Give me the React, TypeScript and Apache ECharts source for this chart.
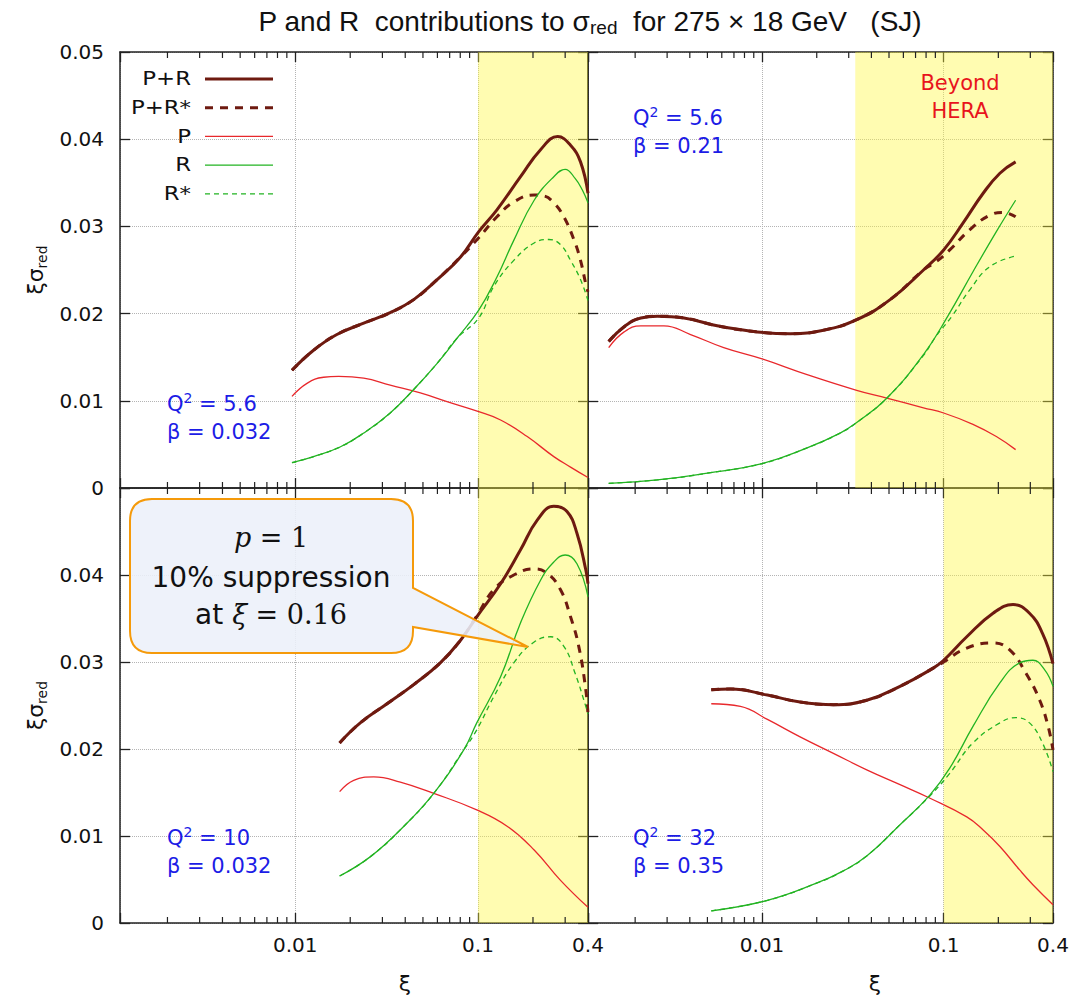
import React, { useEffect, useRef } from "react";
import * as echarts from "echarts";

// ---------------- data ----------------
const XI_MIN = 0.0011;
const XI_MAX = 0.4;
const Y_MIN = 0;
const Y_MAX = 0.05;
const Y_STEP = 0.01;
const X_TICK_LABELS = [0.01, 0.1, 0.4];
const X_MINOR_TICKS = [0.002, 0.003, 0.004, 0.005, 0.006, 0.007, 0.008, 0.009, 0.02, 0.03, 0.04, 0.05, 0.06, 0.07, 0.08, 0.09, 0.2, 0.3];
const SERIES_NAMES = ["P+R", "P+R*", "P", "R", "R*"];
const PANEL_Q2 = ["5.6", "5.6", "10", "32"];
const PANEL_BETA = ["0.032", "0.21", "0.032", "0.35"];
const HERA_LIMIT = [0.1, 0.0326, 0.1, 0.1];

// Panel A: Q2 = 5.6, beta = 0.032
const A_PR = [[0.0096, 0.0135], [0.0126, 0.0158], [0.0169, 0.0176], [0.0237, 0.0189], [0.0331, 0.0201], [0.0445, 0.0216], [0.0598, 0.0239], [0.0803, 0.0265], [0.101, 0.0294], [0.127, 0.0319], [0.171, 0.0357], [0.22, 0.0388], [0.273, 0.0403], [0.321, 0.0393], [0.364, 0.0374], [0.4, 0.0338]];
const A_PRs = [[0.0096, 0.0135], [0.0126, 0.0158], [0.0169, 0.0176], [0.0237, 0.0189], [0.0331, 0.0201], [0.0445, 0.0216], [0.0598, 0.0239], [0.0803, 0.0265], [0.101, 0.0287], [0.127, 0.0311], [0.157, 0.0328], [0.203, 0.0336], [0.229, 0.0335], [0.26, 0.0327], [0.295, 0.0311], [0.336, 0.0284], [0.364, 0.0261], [0.39, 0.0233], [0.4, 0.0225]];
const A_P = [[0.0096, 0.0105], [0.0116, 0.012], [0.0143, 0.0127], [0.0173, 0.0128], [0.0237, 0.0126], [0.0331, 0.0118], [0.0484, 0.0109], [0.0677, 0.0099], [0.101, 0.00875], [0.133, 0.0078], [0.186, 0.0059], [0.26, 0.0036], [0.321, 0.0024], [0.4, 0.0012]];
const A_R = [[0.0096, 0.0029], [0.0126, 0.0036], [0.0176, 0.0047], [0.0237, 0.0063], [0.0331, 0.0086], [0.0445, 0.0113], [0.0598, 0.0143], [0.077, 0.0172], [0.101, 0.0204], [0.127, 0.0242], [0.157, 0.0284], [0.203, 0.033], [0.26, 0.0357], [0.3, 0.03655], [0.34, 0.0355], [0.372, 0.0342], [0.4, 0.0327]];
const A_Rs = [[0.0096, 0.0029], [0.0126, 0.0036], [0.0176, 0.0047], [0.0237, 0.0063], [0.0331, 0.0086], [0.0445, 0.0113], [0.0598, 0.0143], [0.077, 0.0172], [0.101, 0.0195], [0.122, 0.0231], [0.157, 0.0261], [0.203, 0.0281], [0.244, 0.0285], [0.283, 0.0279], [0.321, 0.0261], [0.364, 0.0239], [0.4, 0.0215]];

// Panel B: Q2 = 5.6, beta = 0.21
const B_PR = [[0.00143, 0.0168], [0.00174, 0.0185], [0.00215, 0.0195], [0.00265, 0.0197], [0.00371, 0.0195], [0.00566, 0.0186], [0.0094, 0.0179], [0.0143, 0.0177], [0.0218, 0.0181], [0.0332, 0.0193], [0.0507, 0.0216], [0.0774, 0.025], [0.1, 0.0273], [0.128, 0.0304], [0.165, 0.0338], [0.204, 0.0361], [0.249, 0.0374]];
const B_PRs = [[0.00143, 0.0168], [0.00174, 0.0185], [0.00215, 0.0195], [0.00265, 0.0197], [0.00371, 0.0195], [0.00566, 0.0186], [0.0094, 0.0179], [0.0143, 0.0177], [0.0218, 0.0181], [0.0332, 0.0193], [0.0507, 0.0216], [0.0774, 0.025], [0.0915, 0.026], [0.108, 0.0273], [0.139, 0.0296], [0.18, 0.0313], [0.213, 0.0316], [0.249, 0.0311]];
const B_P = [[0.00143, 0.0161], [0.00174, 0.0179], [0.00215, 0.0186], [0.00288, 0.0186], [0.00404, 0.0176], [0.00615, 0.0161], [0.01, 0.0148], [0.0177, 0.013], [0.0332, 0.0112], [0.0486, 0.0103], [0.0774, 0.0092], [0.1, 0.0086], [0.145, 0.0073], [0.195, 0.0059], [0.249, 0.0044]];
const B_R = [[0.00143, 0.00054], [0.00265, 0.00092], [0.005, 0.0017], [0.01, 0.0028], [0.0177, 0.0046], [0.0269, 0.0063], [0.0332, 0.0075], [0.0486, 0.0103], [0.0774, 0.0153], [0.106, 0.0198], [0.145, 0.0248], [0.195, 0.0294], [0.249, 0.033]];
const B_Rs = [[0.00143, 0.00054], [0.00265, 0.00092], [0.005, 0.0017], [0.01, 0.0028], [0.0177, 0.0046], [0.0269, 0.0063], [0.0332, 0.0075], [0.0486, 0.0103], [0.0774, 0.0152], [0.09, 0.0173], [0.111, 0.0197], [0.139, 0.0227], [0.18, 0.0254], [0.249, 0.0266]];

// Panel C: Q2 = 10, beta = 0.032
const C_PR = [[0.0175, 0.0207], [0.0227, 0.023], [0.0318, 0.0252], [0.0445, 0.0274], [0.0622, 0.0299], [0.0803, 0.0325], [0.0985, 0.0352], [0.133, 0.039], [0.171, 0.0429], [0.211, 0.0463], [0.26, 0.0479], [0.307, 0.0473], [0.348, 0.0448], [0.389, 0.0406], [0.4, 0.039]];
const C_PRs = [[0.0175, 0.0207], [0.0227, 0.023], [0.0318, 0.0252], [0.0445, 0.0274], [0.0622, 0.0299], [0.0803, 0.0325], [0.0985, 0.0353], [0.122, 0.0383], [0.157, 0.04], [0.203, 0.0407], [0.239, 0.0402], [0.283, 0.0383], [0.321, 0.0352], [0.356, 0.0318], [0.389, 0.0268], [0.4, 0.024]];
const C_P = [[0.0175, 0.0151], [0.0209, 0.0164], [0.0269, 0.0168], [0.0376, 0.0162], [0.0573, 0.0149], [0.0985, 0.013], [0.145, 0.0111], [0.203, 0.0084], [0.283, 0.0049], [0.4, 0.0018]];
const C_R = [[0.0175, 0.0054], [0.0257, 0.0076], [0.0392, 0.0111], [0.0573, 0.0149], [0.0836, 0.0199], [0.0985, 0.023], [0.133, 0.0283], [0.171, 0.0345], [0.22, 0.0394], [0.26, 0.0415], [0.3, 0.0423], [0.348, 0.0413], [0.4, 0.0375]];
const C_Rs = [[0.0175, 0.0054], [0.0257, 0.0076], [0.0392, 0.0111], [0.0573, 0.0149], [0.0836, 0.0199], [0.0985, 0.0222], [0.122, 0.026], [0.157, 0.0299], [0.203, 0.0323], [0.25, 0.0329], [0.295, 0.0318], [0.34, 0.0287], [0.389, 0.0249], [0.4, 0.024]];

// Panel D: Q2 = 32, beta = 0.35
const D_PR = [[0.00525, 0.0268], [0.0067, 0.0269], [0.0107, 0.0262], [0.0162, 0.0254], [0.0247, 0.0251], [0.0377, 0.0256], [0.0575, 0.0272], [0.0876, 0.0293], [0.1, 0.0302], [0.134, 0.0329], [0.187, 0.0356], [0.241, 0.0366], [0.297, 0.0356], [0.35, 0.0333], [0.4, 0.0298]];
const D_PRs = [[0.00525, 0.0268], [0.0067, 0.0269], [0.0107, 0.0262], [0.0162, 0.0254], [0.0247, 0.0251], [0.0377, 0.0256], [0.0575, 0.0272], [0.0876, 0.0293], [0.1, 0.03], [0.134, 0.0316], [0.187, 0.0322], [0.231, 0.0314], [0.284, 0.0287], [0.338, 0.0256], [0.376, 0.0226], [0.4, 0.0199]];
const D_P = [[0.00525, 0.0252], [0.0076, 0.0249], [0.0107, 0.0234], [0.0162, 0.0214], [0.0247, 0.0195], [0.0377, 0.0176], [0.0575, 0.0159], [0.083, 0.0144], [0.134, 0.0122], [0.165, 0.0107], [0.204, 0.0088], [0.262, 0.0061], [0.31, 0.0044], [0.4, 0.0021]];
const D_R = [[0.00525, 0.0014], [0.0107, 0.0026], [0.0201, 0.0046], [0.0275, 0.0059], [0.0377, 0.0077], [0.0575, 0.0113], [0.0839, 0.0147], [0.108, 0.0178], [0.145, 0.0226], [0.204, 0.0276], [0.262, 0.0299], [0.31, 0.0302], [0.36, 0.0291], [0.4, 0.0272]];
const D_Rs = [[0.00525, 0.0014], [0.0107, 0.0026], [0.0201, 0.0046], [0.0275, 0.0059], [0.0377, 0.0077], [0.0575, 0.0113], [0.0839, 0.0146], [0.108, 0.0172], [0.145, 0.0207], [0.204, 0.023], [0.25, 0.0236], [0.297, 0.023], [0.35, 0.0207], [0.4, 0.0174]];

const PANEL_DATA = [
  [A_PR, A_PRs, A_P, A_R, A_Rs],
  [B_PR, B_PRs, B_P, B_R, B_Rs],
  [C_PR, C_PRs, C_P, C_R, C_Rs],
  [D_PR, D_PRs, D_P, D_R, D_Rs],
];

// ---------------- layout & style ----------------
const W = 1073;
const H = 995;
const GRIDS = [
  { left: 120, top: 52, width: 468, height: 436 },
  { left: 588, top: 52, width: 465, height: 436 },
  { left: 120, top: 488, width: 468, height: 435 },
  { left: 588, top: 488, width: 465, height: 435 },
];
const ANNOT_POS = [[167, 404], [633, 118], [167, 838], [633, 838]];
const SANS = "DejaVu Sans";
const DARK = "#6e1a10";
const RED = "#e8282c";
const GREEN = "#22b322";
const BLUE = "#1c1ce6";
const STYLES: Record<string, { color: string; width: number; type: any }> = {
  "P+R": { color: DARK, width: 3, type: "solid" },
  "P+R*": { color: DARK, width: 3, type: [8, 7] },
  P: { color: RED, width: 1.3, type: "solid" },
  R: { color: GREEN, width: 1.3, type: "solid" },
  "R*": { color: GREEN, width: 1.3, type: [5, 4] },
};

const CALLOUT_D =
  "M152,499 H391 Q413,499 413,521 V588 L528,647 L413,627 V631 Q413,653 391,653 H152 Q130,653 130,631 V521 Q130,499 152,499 Z";
echarts.graphic.registerShape("callout", echarts.graphic.extendPath(CALLOUT_D, {}));

const fmtX = (v: number) => {
  for (const t of X_TICK_LABELS) if (Math.abs(v / t - 1) < 1e-3) return String(t);
  return "";
};

function buildOption() {
  const xAxis: any[] = [];
  const yAxis: any[] = [];
  const series: any[] = [];
  const lineSt = { color: "#222", width: 1.5 };
  const tickSt = { color: "#222", width: 1.3 };
  GRIDS.forEach((_, i) => {
    const bottomRow = i >= 2;
    const leftCol = i % 2 === 0;
    const xBase = {
      type: "log",
      logBase: 10,
      gridIndex: i,
      min: XI_MIN,
      max: XI_MAX,
      axisLine: { show: true, onZero: false, lineStyle: lineSt },
      axisTick: { show: true, inside: true, length: 10, lineStyle: tickSt },
    };
    xAxis.push({
      ...xBase,
      position: "bottom",
      splitLine: { show: true, lineStyle: { color: "#b4b4b4", type: "dotted", width: 1 } },
      axisLabel: { show: bottomRow, formatter: fmtX, fontFamily: SANS, fontSize: 20, color: "#111", margin: 12 },
    });
    xAxis.push({ ...xBase, position: "top", splitLine: { show: false }, axisLabel: { show: false } });
    const yBase = {
      type: "value",
      gridIndex: i,
      min: Y_MIN,
      max: Y_MAX,
      interval: Y_STEP,
      axisLine: { show: true, onZero: false, lineStyle: lineSt },
      axisTick: { show: true, inside: true, length: 10, lineStyle: tickSt },
    };
    yAxis.push({
      ...yBase,
      position: "left",
      splitLine: { show: true, lineStyle: { color: "#b4b4b4", type: "dotted", width: 1 } },
      axisLabel: {
        show: leftCol,
        fontFamily: SANS,
        fontSize: 20,
        color: "#111",
        margin: 16,
        formatter: (v: number) => (bottomRow && v > Y_MAX - 1e-6 ? "" : v === 0 ? "0" : v.toFixed(2)),
      },
      name: leftCol ? "ξσ{sub|red}" : "",
      nameLocation: "middle",
      nameRotate: 90,
      nameGap: 71,
      nameTextStyle: {
        fontFamily: SANS,
        fontSize: 22,
        color: "#111",
        lineHeight: 28,
        rich: { sub: { fontFamily: SANS, fontSize: 14, color: "#111", verticalAlign: "bottom", lineHeight: 28 } },
      },
    });
    yAxis.push({ ...yBase, position: "right", splitLine: { show: false }, axisLabel: { show: false } });

    PANEL_DATA[i].forEach((data, j) => {
      const name = SERIES_NAMES[j];
      const st = STYLES[name];
      const s: any = {
        type: "line",
        name,
        xAxisIndex: 2 * i,
        yAxisIndex: 2 * i,
        data,
        smooth: 0.45,
        showSymbol: false,
        symbol: "none",
        z: 3 + j,
        lineStyle: { color: st.color, width: st.width, type: st.type },
        itemStyle: { color: st.color },
      };
      if (j === 0) {
        s.markArea = {
          silent: true,
          itemStyle: { color: "rgba(255,247,60,0.4)" },
          data: [[{ xAxis: HERA_LIMIT[i] }, { xAxis: XI_MAX }]],
        };
      }
      series.push(s);
    });

    series.push({
      type: "custom",
      xAxisIndex: 2 * i,
      yAxisIndex: 2 * i,
      silent: true,
      z: 10,
      data: X_MINOR_TICKS.filter((v) => v > XI_MIN).map((v) => [v, Y_MIN]),
      renderItem: (params: any, api: any) => {
        const x = api.value(0);
        const pb = api.coord([x, Y_MIN]);
        const pt = api.coord([x, Y_MAX]);
        return {
          type: "group",
          children: [
            { type: "line", shape: { x1: pb[0], y1: pb[1], x2: pb[0], y2: pb[1] - 6 }, style: { stroke: "#222", lineWidth: 1.2 } },
            { type: "line", shape: { x1: pt[0], y1: pt[1], x2: pt[0], y2: pt[1] + 6 }, style: { stroke: "#222", lineWidth: 1.2 } },
          ],
        };
      },
    });
  });

  const graphic: any[] = [];
  // title
  graphic.push({
    type: "text",
    x: 590,
    y: 21,
    z: 100,
    style: {
      text: "P and R  contributions to σ{sub|red}  for 275 × 18 GeV   (SJ)",
      align: "center",
      verticalAlign: "middle",
      fontFamily: "Liberation Sans",
      fontSize: 28,
      fill: "#111",
      lineHeight: 32,
      rich: { sub: { fontFamily: "Liberation Sans", fontSize: 19, fill: "#111", verticalAlign: "bottom", lineHeight: 32 } },
    },
  });
  // legend
  SERIES_NAMES.forEach((name, j) => {
    const y = 79 + 28.7 * j;
    const st = STYLES[name];
    graphic.push({
      type: "text",
      x: 191,
      y,
      z: 100,
      scaleX: 1.2,
      style: { text: name, align: "right", verticalAlign: "middle", fontFamily: SANS, fontSize: 19, fill: "#111" },
    });
    graphic.push({
      type: "line",
      z: 100,
      shape: { x1: 205, y1: y, x2: 273, y2: y },
      style: { stroke: st.color, lineWidth: st.width, lineDash: Array.isArray(st.type) ? st.type : null },
    });
  });
  // panel annotations
  GRIDS.forEach((_, i) => {
    const [ax, ay] = ANNOT_POS[i];
    graphic.push({
      type: "text",
      x: ax,
      y: ay,
      z: 100,
      style: {
        text: "Q{sup|2} = " + PANEL_Q2[i],
        align: "left",
        verticalAlign: "middle",
        fontFamily: SANS,
        fontSize: 21,
        fill: BLUE,
        lineHeight: 26,
        rich: { sup: { fontFamily: SANS, fontSize: 14, fill: BLUE, verticalAlign: "top", lineHeight: 26 } },
      },
    });
    graphic.push({
      type: "text",
      x: ax,
      y: ay + 28,
      z: 100,
      style: { text: "β = " + PANEL_BETA[i], align: "left", verticalAlign: "middle", fontFamily: SANS, fontSize: 21, fill: BLUE },
    });
  });
  // Beyond HERA
  graphic.push({
    type: "text",
    x: 960,
    y: 97,
    z: 100,
    style: {
      text: "Beyond\nHERA",
      align: "center",
      verticalAlign: "middle",
      fontFamily: SANS,
      fontSize: 21,
      lineHeight: 28,
      fill: "#e8141c",
    },
  });
  // x axis names
  [405, 875].forEach((x) => {
    graphic.push({
      type: "text",
      x,
      y: 983,
      z: 100,
      style: { text: "ξ", align: "center", verticalAlign: "middle", fontFamily: SANS, fontSize: 22, fill: "#111" },
    });
  });
  // callout
  graphic.push({
    type: "callout",
    x: 0,
    y: 0,
    z: 100,
    style: { fill: "rgba(236,240,249,0.88)", stroke: "#f59a0a", lineWidth: 2 },
  });
  const math = "DejaVu Serif";
  graphic.push({
    type: "text",
    x: 271,
    y: 537,
    z: 101,
    style: {
      text: "{mi|p}{m| = 1}",
      align: "center",
      verticalAlign: "middle",
      rich: {
        mi: { fontFamily: math, fontStyle: "italic", fontSize: 27, fill: "#111" },
        m: { fontFamily: math, fontSize: 27, fill: "#111" },
      },
    },
  });
  graphic.push({
    type: "text",
    x: 271,
    y: 577,
    z: 101,
    style: { text: "10% suppression", align: "center", verticalAlign: "middle", fontFamily: SANS, fontSize: 28, fill: "#111" },
  });
  graphic.push({
    type: "text",
    x: 271,
    y: 614,
    z: 101,
    style: {
      text: "{s|at }{mi|ξ}{m| = 0.16}",
      align: "center",
      verticalAlign: "middle",
      rich: {
        s: { fontFamily: SANS, fontSize: 28, fill: "#111" },
        mi: { fontFamily: math, fontStyle: "italic", fontSize: 27, fill: "#111" },
        m: { fontFamily: math, fontSize: 27, fill: "#111" },
      },
    },
  });

  return {
    animation: false,
    backgroundColor: "#ffffff",
    grid: GRIDS.map((g) => ({ ...g, containLabel: false })),
    xAxis,
    yAxis,
    series,
    graphic,
  };
}

export default function App() {
  const ref = useRef<HTMLDivElement>(null);
  useEffect(() => {
    document.body.style.margin = "0";
    if (!ref.current) return;
    const chart = echarts.init(ref.current, undefined, { renderer: "svg" });
    chart.setOption(buildOption() as any);
    return () => chart.dispose();
  }, []);
  return <div ref={ref} style={{ position: "absolute", left: 0, top: 0, width: W, height: H }} />;
}
